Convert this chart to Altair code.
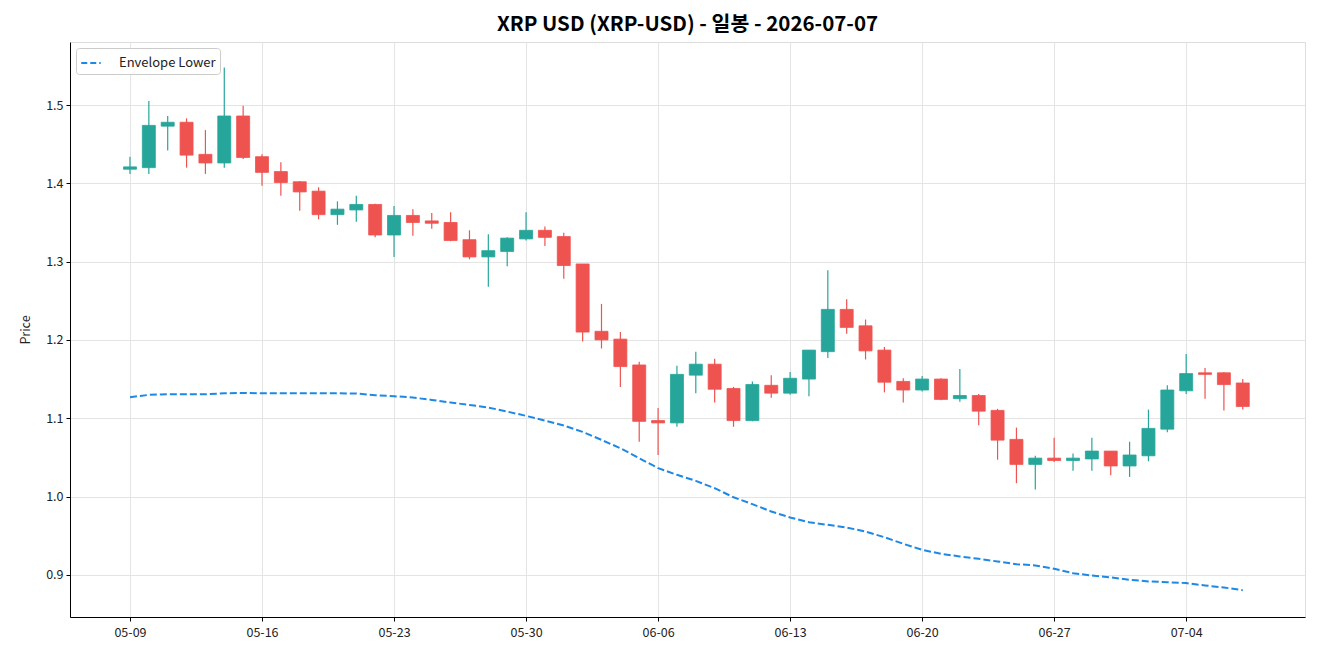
import altair as alt
import pandas as pd

dates = pd.date_range("2026-05-09", periods=60, freq="D").strftime("%Y-%m-%d").tolist()

opens = [1.418, 1.420, 1.473, 1.478, 1.437, 1.426, 1.486, 1.434, 1.415, 1.402,
         1.390, 1.360, 1.366, 1.373, 1.334, 1.359, 1.352, 1.350, 1.328, 1.306,
         1.313, 1.329, 1.340, 1.332, 1.297, 1.211, 1.201, 1.168, 1.097, 1.094,
         1.155, 1.169, 1.138, 1.097, 1.142, 1.132, 1.150, 1.185, 1.239, 1.218,
         1.187, 1.147, 1.136, 1.150, 1.125, 1.129, 1.110, 1.073, 1.041, 1.049,
         1.046, 1.048, 1.058, 1.039, 1.052, 1.086, 1.135, 1.158, 1.158, 1.145]
highs = [1.434, 1.505, 1.486, 1.483, 1.468, 1.548, 1.499, 1.437, 1.427, 1.403,
         1.395, 1.377, 1.384, 1.374, 1.371, 1.367, 1.362, 1.363, 1.340, 1.335,
         1.331, 1.363, 1.345, 1.337, 1.297, 1.246, 1.210, 1.172, 1.113, 1.167,
         1.185, 1.176, 1.140, 1.147, 1.155, 1.159, 1.187, 1.289, 1.252, 1.226,
         1.191, 1.151, 1.154, 1.151, 1.163, 1.131, 1.112, 1.088, 1.052, 1.075,
         1.055, 1.075, 1.058, 1.070, 1.111, 1.142, 1.182, 1.164, 1.159, 1.150]
lows = [1.412, 1.412, 1.442, 1.420, 1.412, 1.420, 1.431, 1.397, 1.384, 1.365,
        1.354, 1.347, 1.351, 1.331, 1.306, 1.333, 1.342, 1.326, 1.303, 1.268,
        1.294, 1.327, 1.320, 1.278, 1.198, 1.189, 1.140, 1.070, 1.053, 1.089,
        1.132, 1.120, 1.089, 1.096, 1.126, 1.130, 1.128, 1.177, 1.208, 1.175,
        1.133, 1.120, 1.134, 1.123, 1.121, 1.091, 1.047, 1.017, 1.009, 1.044,
        1.033, 1.033, 1.027, 1.025, 1.045, 1.082, 1.131, 1.125, 1.110, 1.111]
closes = [1.421, 1.474, 1.478, 1.436, 1.426, 1.486, 1.433, 1.414, 1.401, 1.389,
          1.360, 1.367, 1.373, 1.334, 1.359, 1.350, 1.349, 1.327, 1.306, 1.314,
          1.330, 1.340, 1.331, 1.295, 1.210, 1.200, 1.166, 1.096, 1.094, 1.156,
          1.169, 1.137, 1.097, 1.143, 1.132, 1.151, 1.187, 1.239, 1.216, 1.186,
          1.146, 1.136, 1.150, 1.124, 1.129, 1.109, 1.072, 1.041, 1.049, 1.046,
          1.049, 1.058, 1.039, 1.053, 1.087, 1.136, 1.157, 1.156, 1.143, 1.115]
envelope_lower = [1.1268, 1.1298, 1.1306, 1.1306, 1.1306, 1.1319, 1.1323, 1.1319, 1.1319, 1.1319,
                  1.1319, 1.1319, 1.1315, 1.1294, 1.1281, 1.1264, 1.1234, 1.1200, 1.1170, 1.1136,
                  1.1085, 1.1030, 1.0970, 1.0906, 1.0826, 1.0723, 1.0617, 1.0489, 1.0362, 1.0277,
                  1.0200, 1.0106, 0.9991, 0.9902, 0.9809, 0.9732, 0.9672, 0.9638, 0.9604, 0.9553,
                  0.9480, 0.9396, 0.9319, 0.9268, 0.9234, 0.9204, 0.9170, 0.9136, 0.9120, 0.9077,
                  0.9021, 0.8991, 0.8966, 0.8936, 0.8915, 0.8906, 0.8894, 0.8864, 0.8838, 0.8804]

x_tick_dates = ["2026-05-09", "2026-05-16", "2026-05-23", "2026-05-30", "2026-06-06",
                "2026-06-13", "2026-06-20", "2026-06-27", "2026-07-04"]
y_ticks = [0.9, 1.0, 1.1, 1.2, 1.3, 1.4, 1.5]

UP = "#26a69a"
DOWN = "#ef5350"
FONT = "Noto Sans CJK KR"


def ms(s):
    return int(pd.Timestamp(s, tz="UTC").value // 1_000_000)


DAY = 86_400_000
x_domain = [ms(dates[0]) - 3.18 * DAY, ms(dates[-1]) + 3.3 * DAY]
x_values = [ms(d) for d in x_tick_dates]

df = pd.DataFrame({
    "date": dates, "open": opens, "high": highs, "low": lows, "close": closes,
    "env": envelope_lower,
})
df["dir"] = ["up" if c >= o else "down" for o, c in zip(opens, closes)]
df["series"] = "Envelope Lower"

x_enc = alt.X(
    "date:T",
    scale=alt.Scale(type="utc", domain=x_domain, nice=False, padding=0),
    axis=alt.Axis(values=x_values, labelExpr="utcFormat(datum.value, '%m-%d')", title=None,
                  labelFont=FONT, labelFontSize=12.5, labelColor="#222222",
                  tickColor="#000000", tickSize=4, labelPadding=5,
                  domainColor="#000000", gridColor="#e4e4e4", labelFlush=False),
)
y_scale = alt.Scale(domain=[0.8461, 1.5805], nice=False, zero=False)
y_axis = alt.Axis(values=y_ticks, format=".1f", title="Price", labelFont=FONT,
                  labelFontSize=12.5, labelColor="#222222", titleFont=FONT,
                  titleFontSize=12.5, titleFontWeight="normal", titleColor="#222222",
                  titlePadding=13, tickColor="#000000", tickSize=4, labelPadding=3,
                  domainColor="#000000", gridColor="#e4e4e4")

color_enc = alt.Color("dir:N", scale=alt.Scale(domain=["up", "down"], range=[UP, DOWN]),
                      legend=None)

base = alt.Chart(df)

wicks = base.mark_rule(strokeWidth=1.2).encode(
    x=x_enc,
    y=alt.Y("low:Q", scale=y_scale, axis=y_axis),
    y2="high:Q",
    color=color_enc,
)
bodies = base.mark_bar(size=13, strokeWidth=1, strokeOpacity=0.8).encode(
    x=x_enc,
    y=alt.Y("open:Q", scale=y_scale, axis=y_axis),
    y2="close:Q",
    color=color_enc,
    stroke=alt.Stroke("dir:N", scale=alt.Scale(domain=["up", "down"], range=[UP, DOWN]),
                      legend=None),
)
env_line = base.mark_line(strokeWidth=2, strokeDash=[7, 3]).encode(
    x=x_enc,
    y=alt.Y("env:Q", scale=y_scale, axis=y_axis),
    strokeDash=alt.value([7, 3]),
    color=alt.Color("series:N",
                    scale=alt.Scale(domain=["Envelope Lower"], range=["#1e88e5"]),
                    legend=alt.Legend(title=None, orient="top-left", offset=6,
                                      symbolType="stroke", symbolStrokeWidth=2,
                                      symbolDash=[6, 3], symbolSize=380,
                                      labelFont=FONT, labelFontSize=13, labelOffset=17,
                                      labelColor="#222222", strokeColor="#cccccc",
                                      fillColor="white", padding=4, cornerRadius=3)),
)

chart = (
    alt.layer(wicks, bodies, env_line)
    .resolve_scale(color="independent")
    .properties(
        width=1235, height=575,
        padding={"left": 70, "top": 42, "right": 15, "bottom": 43},
        autosize=alt.AutoSizeParams(type="none"),
        title=alt.Title("XRP USD (XRP-USD) - 일봉 - 2026-07-07", font=FONT, fontSize=20.5,
                        fontWeight="bold", anchor="middle", offset=7, color="#000000"),
    )
    .configure_view(stroke="#000000", strokeWidth=1)
    .configure(background="white")
)

chart.save("out.html", embed_options={"renderer": "svg", "actions": False})
